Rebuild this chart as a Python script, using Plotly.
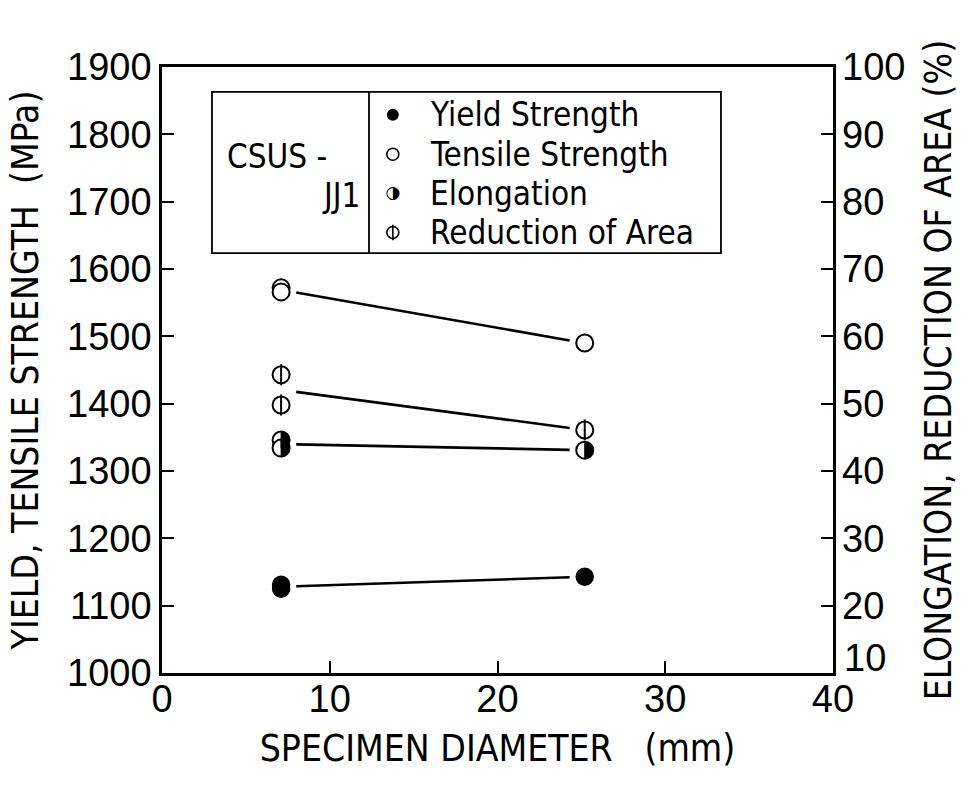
import numpy as np
import plotly.graph_objects as go

# ---------------- data ----------------
x_small = 7.1    # mm
x_large = 25.2   # mm
yield_small = [1131, 1125]
yield_large = [1143]
tensile_small = [1572, 1566]
tensile_large = [1490]
elong_small = [44.6, 43.4]
elong_large = [43.1]
ra_small = [54.3, 49.8]
ra_large = [46.1]

left_ticks = list(range(1000, 2000, 100))
right_ticks = list(range(10, 110, 10))
x_ticks = [0, 10, 20, 30, 40]

FONT = "Liberation Sans Narrow, DejaVu Sans Condensed, Arial Narrow, sans-serif"
NUM_FONT = "Liberation Sans, Arial, sans-serif"

W, H = 965, 787
ML, MR, MT, MB = 162, 132, 67, 114
X_RANGE = [0, 40]
Y2_RANGE = [10, 100]

fig = go.Figure()

def xs(small, large):
    return [x_small] * len(small) + [x_large] * len(large)

def fit_line(small, large, yaxis):
    gap = 0.9
    m0, m1 = float(np.mean(small)), float(np.mean(large))
    slope = (m1 - m0) / (x_large - x_small)
    xa, xb = x_small + gap, x_large - gap
    fig.add_trace(go.Scatter(x=[xa, xb], y=[m0 + slope * gap, m1 - slope * gap],
                             mode="lines", line=dict(color="black", width=2.6),
                             yaxis=yaxis, showlegend=False, hoverinfo="skip"))

fit_line(yield_small, yield_large, "y")
fit_line(tensile_small, tensile_large, "y")
fit_line(elong_small, elong_large, "y2")
fit_line(ra_small, ra_large, "y2")

MS = 17
# yield: filled
fig.add_trace(go.Scatter(x=xs(yield_small, yield_large), y=yield_small + yield_large,
                         mode="markers", marker=dict(symbol="circle", size=MS, color="black",
                                                     line=dict(color="black", width=1.5)),
                         showlegend=False))
# tensile: open
fig.add_trace(go.Scatter(x=xs(tensile_small, tensile_large), y=tensile_small + tensile_large,
                         mode="markers", marker=dict(symbol="circle", size=MS, color="white",
                                                     line=dict(color="black", width=2)),
                         showlegend=False))
# reduction of area: circle with vertical bar
fig.add_trace(go.Scatter(x=xs(ra_small, ra_large), y=ra_small + ra_large, yaxis="y2",
                         mode="markers", marker=dict(symbol="circle", size=MS, color="white",
                                                     line=dict(color="black", width=2)),
                         showlegend=False))
fig.add_trace(go.Scatter(x=xs(ra_small, ra_large), y=ra_small + ra_large, yaxis="y2",
                         mode="markers", marker=dict(symbol="line-ns", size=MS - 2,
                                                     line=dict(color="black", width=2)),
                         showlegend=False))
# elongation: open circle + black right half (drawn as a path in data units)
ex = xs(elong_small, elong_large)
ey = elong_small + elong_large
fig.add_trace(go.Scatter(x=ex, y=ey, yaxis="y2",
                         mode="markers", marker=dict(symbol="circle", size=MS, color="white",
                                                     line=dict(color="black", width=2)),
                         showlegend=False))
r_px = 8.0
rx = r_px * (X_RANGE[1] - X_RANGE[0]) / (W - ML - MR)
ry = r_px * (Y2_RANGE[1] - Y2_RANGE[0]) / (H - MT - MB)
k = 0.5523
for cx, cy in zip(ex, ey):
    path = (f"M {cx},{cy + ry} "
            f"C {cx + k * rx},{cy + ry} {cx + rx},{cy + k * ry} {cx + rx},{cy} "
            f"C {cx + rx},{cy - k * ry} {cx + k * rx},{cy - ry} {cx},{cy - ry} Z")
    fig.add_shape(type="path", path=path, xref="x", yref="y2",
                  fillcolor="black", line=dict(color="black", width=1))

# ---------------- legend box (overlay axes in 0..1 plot units) ----------------
leg_rows = [0.921, 0.856, 0.791, 0.727]
leg_names = ["Yield Strength", "Tensile Strength", "Elongation", "Reduction of Area"]
sym_x = 0.344
LS = 12
fig.add_trace(go.Scatter(x=[sym_x], y=[leg_rows[0]], xaxis="x3", yaxis="y3", mode="markers",
                         marker=dict(symbol="circle", size=LS, color="black"), showlegend=False))
fig.add_trace(go.Scatter(x=[sym_x], y=[leg_rows[1]], xaxis="x3", yaxis="y3", mode="markers",
                         marker=dict(symbol="circle", size=LS, color="white",
                                     line=dict(color="black", width=1.6)), showlegend=False))
fig.add_trace(go.Scatter(x=[sym_x], y=[leg_rows[2]], xaxis="x3", yaxis="y3", mode="text",
                         text=["\u25D1"], textfont=dict(family="DejaVu Sans", size=17, color="black"),
                         textposition="middle center", showlegend=False))
fig.add_trace(go.Scatter(x=[sym_x], y=[leg_rows[3]], xaxis="x3", yaxis="y3", mode="markers",
                         marker=dict(symbol="circle", size=LS, color="white",
                                     line=dict(color="black", width=1.6)), showlegend=False))
fig.add_trace(go.Scatter(x=[sym_x], y=[leg_rows[3]], xaxis="x3", yaxis="y3", mode="markers",
                         marker=dict(symbol="line-ns", size=LS - 1,
                                     line=dict(color="black", width=1.6)), showlegend=False))

box_l, box_r, box_div, box_b, box_t = 0.0745, 0.833, 0.3085, 0.693, 0.959
fig.add_shape(type="rect", xref="paper", yref="paper", x0=box_l, x1=box_r, y0=box_b, y1=box_t,
              line=dict(color="black", width=1.8), fillcolor="rgba(0,0,0,0)")
fig.add_shape(type="line", xref="paper", yref="paper", x0=box_div, x1=box_div, y0=box_b, y1=box_t,
              line=dict(color="black", width=1.8))

for yy, name in zip(leg_rows, leg_names):
    fig.add_annotation(xref="paper", yref="paper", x=0.396, y=yy, text=name, showarrow=False,
                       xanchor="left", yanchor="middle",
                       font=dict(family=FONT, size=33, color="black"))
fig.add_annotation(xref="paper", yref="paper", x=0.094, y=0.852, text="CSUS -", showarrow=False,
                   xanchor="left", yanchor="middle", font=dict(family=FONT, size=33, color="black"))
fig.add_annotation(xref="paper", yref="paper", x=0.298, y=0.788, text="JJ1", showarrow=False,
                   xanchor="right", yanchor="middle", font=dict(family=FONT, size=33, color="black"))

# right-axis bottom label, raised above the corner as in the original
right_text = ["" if v == right_ticks[0] else str(v) for v in right_ticks]
fig.add_annotation(xref="paper", yref="paper", x=1.013, y=0.024, text=str(right_ticks[0]),
                   showarrow=False, xanchor="left", yanchor="middle",
                   font=dict(family=NUM_FONT, size=38, color="black"))

# ---------------- layout ----------------
fig.update_layout(
    width=W, height=H,
    margin=dict(l=ML, r=MR, t=MT, b=MB),
    paper_bgcolor="white", plot_bgcolor="white",
    showlegend=False,
    xaxis=dict(range=X_RANGE, tickvals=x_ticks, ticks="inside", ticklen=12, tickwidth=2,
               tickcolor="black", showgrid=False, zeroline=False,
               showline=True, linecolor="black", linewidth=2.5, mirror=True,
               ticklabelstandoff=-9,
               tickfont=dict(family=NUM_FONT, size=38, color="black"),
               title=dict(text="SPECIMEN DIAMETER   (mm)", standoff=16,
                          font=dict(family=FONT, size=37, color="black"))),
    yaxis=dict(range=[1000, 1900], tickvals=left_ticks, ticks="inside", ticklen=12, tickwidth=2,
               tickcolor="black", showgrid=False, zeroline=False,
               showline=True, linecolor="black", linewidth=2.5, mirror=True,
               tickfont=dict(family=NUM_FONT, size=38, color="black"),
               title=dict(text="YIELD, TENSILE STRENGTH  (MPa)", standoff=18,
                          font=dict(family=FONT, size=37, color="black"))),
    yaxis2=dict(range=Y2_RANGE, tickvals=right_ticks, ticktext=right_text,
                overlaying="y", side="right",
                ticks="inside", ticklen=12, tickwidth=2, tickcolor="black",
                showgrid=False, zeroline=False, showline=False,
                ticklabelstandoff=8,
                tickfont=dict(family=NUM_FONT, size=38, color="black"),
                title=dict(text="ELONGATION, REDUCTION OF AREA (%)", standoff=20,
                           font=dict(family=FONT, size=37, color="black"))),
    xaxis3=dict(range=[0, 1], overlaying="x", visible=False, fixedrange=True),
    yaxis3=dict(range=[0, 1], overlaying="y", visible=False, fixedrange=True),
)

fig.write_html("out.html")
